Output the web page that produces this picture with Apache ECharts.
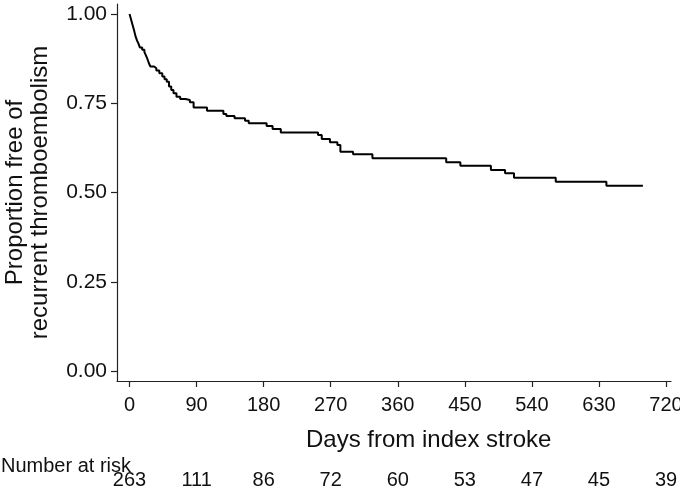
<!DOCTYPE html>
<html>
<head>
<meta charset="utf-8">
<script src="https://cdn.jsdelivr.net/npm/echarts@6/dist/echarts.min.js"></script>
<style>
html,body{margin:0;padding:0;background:#fff;}
#chart{width:680px;height:496px;}
</style>
</head>
<body>
<div id="chart"></div>
<script>
// Kaplan-Meier event times (days) and survival after each event
const eventDays = [0,2,4,6,8,10,12,14,17,20,22,24,26,28,33,36,40,44,47,50,53,56,59,63,68,75,81,86,104,126,130,141,155,160,184,192,203,253,258,269,279,283,300,326,425,444,485,504,516,572,640,689];
const survival  = [1.000,0.985,0.970,0.955,0.938,0.926,0.917,0.906,0.900,0.893,0.884,0.874,0.862,0.853,0.848,0.842,0.834,0.825,0.817,0.810,0.797,0.787,0.778,0.768,0.762,0.759,0.753,0.738,0.729,0.720,0.714,0.708,0.701,0.694,0.686,0.678,0.668,0.661,0.650,0.641,0.633,0.614,0.607,0.596,0.585,0.575,0.563,0.554,0.541,0.530,0.519,0.519];
const xTicks = [0,90,180,270,360,450,540,630,720];
const yTicks = [0,0.25,0.5,0.75,1];
const riskTimes = [0,90,180,270,360,450,540,630,720];
const riskCounts = [263,111,86,72,60,53,47,45,39];

const FONT = "'Liberation Sans', Arial, Helvetica, sans-serif";
const chart = echarts.init(document.getElementById('chart'));
const data = eventDays.map((d,i)=>[d, survival[i]]);

chart.setOption({
  animation:false,
  backgroundColor:'#fff',
  grid:{left:117,right:9,top:4,bottom:115,containLabel:false,outerBoundsMode:'none'},
  xAxis:[{
    type:'value', min:-16.8, max:726.7,
    axisLine:{show:true,onZero:false,lineStyle:{color:'#222',width:1.2}},
    axisTick:{show:true,length:6,lineStyle:{color:'#222',width:1.2},customValues:xTicks},
    axisLabel:{show:true,customValues:xTicks,margin:24,verticalAlign:'middle',fontFamily:FONT,fontSize:20,color:'#111'},
    splitLine:{show:false}
  },{
    type:'value', min:-16.8, max:726.7, position:'bottom', gridIndex:0,
    axisLine:{show:false,onZero:false}, axisTick:{show:false}, splitLine:{show:false},
    axisLabel:{show:true,customValues:riskTimes,margin:99,verticalAlign:'middle',fontFamily:FONT,fontSize:20,color:'#111',
      formatter:function(v){const i=riskTimes.indexOf(v);return i>=0?String(riskCounts[i]):'';}}
  }],
  yAxis:{
    type:'value', min:-0.028, max:1.028,
    axisLine:{show:true,onZero:false,lineStyle:{color:'#222',width:1.2}},
    axisTick:{show:true,length:6,lineStyle:{color:'#222',width:1.2},customValues:yTicks},
    axisLabel:{show:true,customValues:yTicks,margin:10,fontFamily:FONT,fontSize:21,color:'#111',
      formatter:function(v){return v.toFixed(2);}},
    splitLine:{show:false},
    name:'Proportion free of\nrecurrent thromboembolism',
    nameLocation:'middle', nameRotate:90, nameGap:64,
    nameTextStyle:{fontFamily:FONT,fontSize:24,color:'#111',lineHeight:25,align:'center'}
  },
  graphic:[
    {type:'text',left:306,top:428,style:{text:'Days from index stroke',fontFamily:FONT,fontSize:24,fill:'#111'}},
    {type:'text',left:1,top:456,style:{text:'Number at risk',fontFamily:FONT,fontSize:20,fill:'#111'}}
  ],
  series:[{
    type:'line', step:'end', data:data, showSymbol:false, symbol:'none',
    lineStyle:{color:'#000',width:2}, xAxisIndex:0
  }]
});
</script>
</body>
</html>
